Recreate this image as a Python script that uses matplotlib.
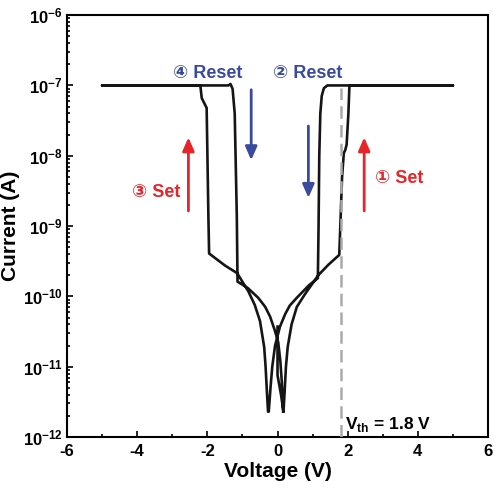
import numpy as np
import matplotlib
matplotlib.use("Agg")
import matplotlib.pyplot as plt
from matplotlib.ticker import FixedLocator, LogLocator, NullFormatter

plt.rcParams['font.family'] = ['Liberation Sans', 'DejaVu Sans']
plt.rcParams['font.weight'] = 'bold'
plt.rcParams['mathtext.fontset'] = 'custom'
plt.rcParams['mathtext.rm'] = 'Liberation Sans:bold'
plt.rcParams['mathtext.bf'] = 'Liberation Sans:bold'

# sweep data, voltage (V) and log10 of current (A), one continuous loop
# (1) set, 0 -> +5 V
v_set_pos = [0.0, 0.0, 0.10, 0.17, 0.20, 0.24, 0.29, 0.40, 0.55, 0.78, 1.16, 1.45, 1.76,
             1.79, 1.84, 1.89, 1.93, 1.97, 2.02, 2.05, 5.0]
logi_set_pos = [-10.43, -11.12, -11.4, -11.64, -11.38, -11.0, -10.72, -10.4, -10.15, -9.97,
                -9.70, -9.55, -9.41, -9.0, -8.3, -7.96, -7.92, -7.84, -7.4, -7.0, -7.0]
# (2) reset, +5 V -> 0 and through the zero-current dip
v_reset_pos = [5.0, 1.42, 1.32, 1.26, 1.22, 1.19, 1.17, 1.15, 0.90, 0.55, 0.35, 0.22, 0.07,
               -0.07, -0.15, -0.20, -0.25]
logi_reset_pos = [-7.0, -7.0, -7.04, -7.15, -7.4, -8.0, -9.0, -9.74, -9.84, -10.02, -10.13,
                  -10.25, -10.43, -10.7, -11.0, -11.3, -11.64]
# (3) set, -> -5 V
v_set_neg = [-0.27, -0.30, -0.34, -0.38, -0.50, -0.65, -0.83, -1.15, -1.50, -1.95, -1.97,
             -2.02, -2.16, -2.20, -5.0]
logi_set_neg = [-11.64, -11.38, -11.0, -10.72, -10.35, -10.12, -9.93, -9.67, -9.56, -9.39,
                -8.87, -7.32, -7.18, -7.0, -7.0]
# (4) reset, -5 V -> 0
v_reset_neg = [-5.0, -1.40, -1.34, -1.28, -1.22, -1.16, -1.14, -0.85, -0.55, -0.35, -0.21,
               -0.08, 0.02, 0.08, 0.12, 0.14, 0.16]
logi_reset_neg = [-7.0, -7.0, -6.98, -7.05, -7.4, -8.87, -9.79, -9.88, -10.02, -10.15, -10.29,
                  -10.48, -10.65, -10.92, -11.2, -11.42, -11.64]

v_th = 1.8
x_ticks = [-6, -4, -2, 0, 2, 4, 6]
y_ticks = [1e-12, 1e-11, 1e-10, 1e-9, 1e-8, 1e-7, 1e-6]
y_tick_labels = [r'$\mathbf{10^{-12}}$', r'$\mathbf{10^{-11}}$', r'$\mathbf{10^{-10}}$',
                 r'$\mathbf{10^{-9}}$', r'$\mathbf{10^{-8}}$', r'$\mathbf{10^{-7}}$',
                 r'$\mathbf{10^{-6}}$']

volt = np.concatenate([v_set_pos, v_reset_pos, v_set_neg, v_reset_neg])
current = 10 ** np.concatenate([logi_set_pos, logi_reset_pos, logi_set_neg, logi_reset_neg])

fig = plt.figure(figsize=(4.99, 4.88), dpi=100)
ax = fig.add_axes([0.1343, 0.1045, 0.8437, 0.8645])

ax.plot(volt, current, color='#151515', lw=1.9, solid_joinstyle='round', zorder=2)
# threshold line sits on top of the curve
ax.plot([v_th, v_th], [1e-12, 0.93e-7], color='#aaaaaa', lw=1.8, dashes=(5, 2.5), zorder=3)

ax.set_yscale('log')
ax.set_xlim(-6, 6)
ax.set_ylim(1e-12, 1e-6)
ax.set_xticks(x_ticks)
ax.set_xticklabels([str(t) for t in x_ticks], fontsize=12, fontweight='bold')
ax.xaxis.set_minor_locator(FixedLocator([-5, -3, -1, 1, 3, 5]))
ax.set_yticks(y_ticks)
ax.set_yticklabels(y_tick_labels, fontsize=12)
ax.yaxis.set_minor_locator(LogLocator(base=10, subs=np.arange(2, 10), numticks=20))
ax.yaxis.set_minor_formatter(NullFormatter())
ax.tick_params(which='both', direction='in', top=False, right=False, width=1.2)
ax.tick_params(which='major', length=4.5, pad=3)
ax.tick_params(axis='x', which='major', pad=5)
ax.tick_params(which='minor', length=2.5)
for s in ax.spines.values():
    s.set_linewidth(1.5)

ax.set_xlabel('Voltage (V)', fontsize=15, fontweight='bold', labelpad=2)
ax.set_ylabel('Current (A)', fontsize=15, fontweight='bold', labelpad=2)

blue = '#3a4a9e'
red = '#e5252a'
fam = ['Liberation Sans', 'DejaVu Sans']
ax.text(-1.98, 1.5e-7, '④ Reset', color=blue, fontsize=13, fontweight='bold',
        ha='center', va='center', family=fam)
ax.text(0.86, 1.5e-7, '② Reset', color=blue, fontsize=13, fontweight='bold',
        ha='center', va='center', family=fam)
ax.text(-3.47, 3.0e-9, '③ Set', color=red, fontsize=13, fontweight='bold',
        ha='center', va='center', family=fam)
ax.text(3.46, 4.8e-9, '① Set', color=red, fontsize=13, fontweight='bold',
        ha='center', va='center', family=fam)
ax.text(1.92, 1.5e-12, r'V$_{\mathbf{th}}$ = 1.8 V', fontsize=12.5, fontweight='bold',
        ha='left', va='center')

arrow_kw = dict(arrowstyle='-|>,head_length=0.8,head_width=0.35', lw=2)
ax.annotate('', xy=(-0.75, 7.9e-9), xytext=(-0.75, 0.95e-7),
            arrowprops=dict(color=blue, **arrow_kw))
ax.annotate('', xy=(0.88, 2.3e-9), xytext=(0.88, 2.9e-8),
            arrowprops=dict(color=blue, **arrow_kw))
ax.annotate('', xy=(-2.54, 2.0e-8), xytext=(-2.54, 1.5e-9),
            arrowprops=dict(color=red, **arrow_kw))
ax.annotate('', xy=(2.47, 2.0e-8), xytext=(2.47, 1.5e-9),
            arrowprops=dict(color=red, **arrow_kw))

fig.savefig('out.png', dpi=100)
